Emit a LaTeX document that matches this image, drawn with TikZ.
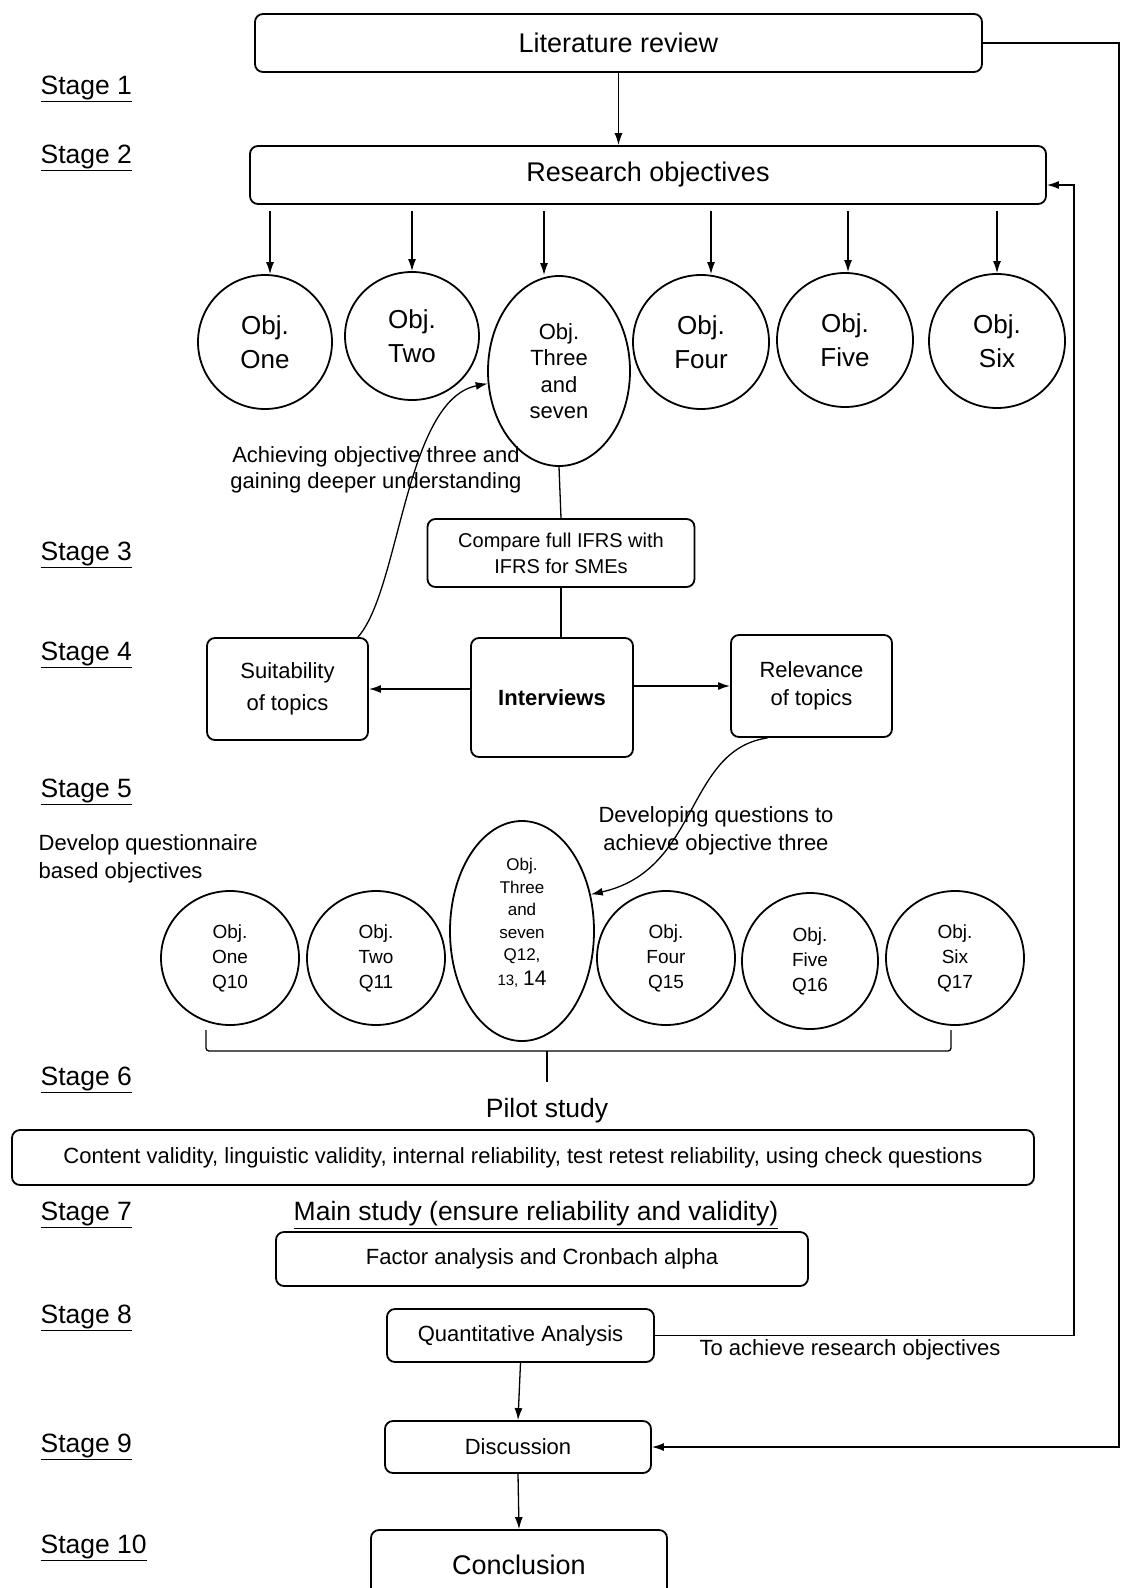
\documentclass[tikz,border=0pt]{standalone}
\usepackage{fontspec}
\setmainfont{Liberation Sans}
\usetikzlibrary{shapes.geometric,arrows.meta}
\tikzset{
every picture/.style={
line width=1.3pt
}}

\begin{document}
\begin{tikzpicture}[x=1pt, y=-1pt,
block/.style = {rectangle, rounded corners=8pt, draw=black, line width=1.8pt, align=center, inner sep=0pt},
objc/.style = {ellipse, draw=black, line width=1.8pt, align=center, inner sep=0pt},
big/.style = {font=\fontsize{27}{34}\selectfont},
mid/.style = {font=\fontsize{22}{29}\selectfont},
sml/.style = {font=\fontsize{19}{25}\selectfont},
stage/.style = {font=\fontsize{26.5}{30}\selectfont, anchor=west, inner sep=0pt},
arr/.style = {-{Latex[length=12pt,width=8pt]}}]
\clip (0,0) rectangle (1121,1588);

\foreach \n/\y in {1/89, 2/158, 3/555, 4/655, 5/792, 6/1080, 7/1215, 8/1318, 9/1447, 10/1548}
  \node [stage] (s\n) at (40,\y) {\underline{Stage \n}};

\node [block, big, minimum width=727, minimum height=58] at (618.5,43) (lit) {Literature review};
\node [block, big, minimum width=796, minimum height=58] at (648,175) (ro) {Research objectives};

\node [objc, font=\fontsize{26}{34}\selectfont, minimum width=134, minimum height=134] at (265,342) (o1) {Obj.\\One};
\node [objc, font=\fontsize{26}{34}\selectfont, minimum width=134, minimum height=128] at (412,336) (o2) {Obj.\\Two};
\node [objc, font=\fontsize{22}{26.5}\selectfont, minimum width=142, minimum height=190] at (559,371) (o3) {Obj.\\Three\\and\\seven};
\node [objc, font=\fontsize{26}{34}\selectfont, minimum width=136, minimum height=134] at (701,342) (o4) {Obj.\\Four};
\node [objc, font=\fontsize{26}{34}\selectfont, minimum width=136, minimum height=134] at (845,340) (o5) {Obj.\\Five};
\node [objc, font=\fontsize{26}{34}\selectfont, minimum width=136, minimum height=134] at (997,341) (o6) {Obj.\\Six};

\node [align=center, font=\fontsize{22}{26}\selectfont] at (376,470) (achv) {Achieving objective three and\\gaining deeper understanding};

\node [block, font=\fontsize{20}{26}\selectfont, minimum width=267, minimum height=68] at (561,553) (cmp) {Compare full IFRS with\\IFRS for SMEs};
\node [block, font=\fontsize{22}{29}\selectfont\bfseries, minimum width=162, minimum height=119] at (552,697.5) (intv) {Interviews};
\node [block, font=\fontsize{22}{32}\selectfont, minimum width=161, minimum height=102] at (287.5,689) (suit) {Suitability\\of topics};
\node [block, font=\fontsize{22}{28}\selectfont, minimum width=161, minimum height=102] at (811.5,686) (rel) {Relevance\\of topics};

\node [align=center, font=\fontsize{22}{28}\selectfont] at (716,831) (devq) {Developing questions to\\achieve objective three};
\node [align=left, anchor=west, inner sep=0pt, font=\fontsize{22}{28}\selectfont] at (38,859) (devqn) {Develop questionnaire\\based objectives};

\node [objc, sml, minimum width=138, minimum height=134] at (230,958) (q1) {Obj.\\One\\Q10};
\node [objc, sml, minimum width=138, minimum height=134] at (376,958) (q2) {Obj.\\Two\\Q11};
\node [objc, font=\fontsize{17}{22.5}\selectfont, minimum width=144, minimum height=220] at (522,931) (q3) {Obj.\\Three\\and\\seven\\Q12,\\[2pt]{\fontsize{15}{18}\selectfont 13,} {\fontsize{21}{22}\selectfont 14}\\[-4pt]};
\node [objc, sml, minimum width=138, minimum height=134] at (666,958) (q4) {Obj.\\Four\\Q15};
\node [objc, sml, minimum width=136, minimum height=136] at (810,961) (q5) {Obj.\\Five\\Q16};
\node [objc, sml, minimum width=138, minimum height=134] at (955,958) (q6) {Obj.\\Six\\Q17};

\node [font=\fontsize{26.5}{30}\selectfont] at (547,1111) (pilot) {Pilot study};
\node [block, mid, minimum width=1022, minimum height=55] at (523,1157.5) (pbox) {Content validity, linguistic validity, internal reliability, test retest reliability, using check questions};
\node [font=\fontsize{26.5}{30}\selectfont] at (536,1215) (main) {\underline{Main study (ensure reliability and validity)}};
\node [block, mid, minimum width=532, minimum height=54] at (542,1259) (fac) {Factor analysis and Cronbach alpha};
\node [block, mid, minimum width=267, minimum height=53] at (520.5,1335.5) (quant) {Quantitative Analysis};
\node [mid] at (850,1350) (toach) {To achieve research objectives};
\node [block, mid, minimum width=266, minimum height=52] at (518,1447) (disc) {Discussion};
\node [block, big, minimum width=296, minimum height=70] at (519,1565) (conc) {Conclusion};

\draw [arr] (lit.south) -- (lit.south |- ro.north);
\foreach \o/\dx in {o1/5,o2/0,o3/-15,o4/10,o5/3,o6/0}
  \draw [arr] ([xshift=\dx pt, yshift=-6pt]\o.north |- ro.south) -- ([xshift=\dx pt]\o.north);

\draw (o3.south) -- (cmp.north);
\draw (cmp.south) -- (cmp.south |- intv.north);
\draw [arr, line width=1.6pt] (intv.west |- suit.east) -- (suit.east);
\draw [arr, line width=1.6pt] (intv.east |- rel.west) -- (rel.west);
\draw [arr] ([xshift=-11pt]suit.north east) .. controls (400,590) and (405,400) .. (o3.190);
\draw [arr] ([xshift=-44pt]rel.south) .. controls (685,750) and (700,870) .. (q3.28);

% bracket under the questionnaire objectives
\draw [rounded corners=3pt] (206,1030) -- (206,1051) -- (951,1051) -- (951,1030);
\draw (547,1051) -- (547,1082);

\draw [arr] (quant.south) -- (disc.north);
\draw [arr] (disc.south) -- (conc.north);
\draw [arr] (quant.east) -- ++(419,0) |- ([yshift=-10pt]ro.east);
\draw [arr] (lit.east) -- ++(136,0) |- (disc.east);

\end{tikzpicture}
\end{document}
